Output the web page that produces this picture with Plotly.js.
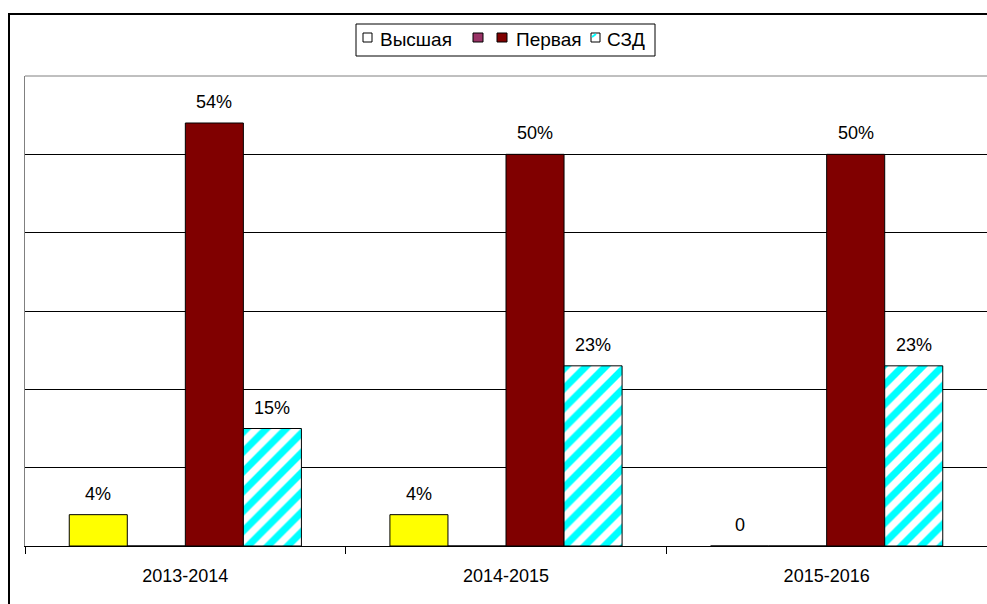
<!DOCTYPE html>
<html>
<head>
<meta charset="utf-8">
<script src="https://cdn.plot.ly/plotly-3.0.1.min.js"></script>
<style>html,body{margin:0;padding:0;background:#fff;}#chart{width:987px;height:604px;}</style>
</head>
<body>
<div id="chart"></div>
<script>
// ---- data ----
const categories = ['2013-2014', '2014-2015', '2015-2016'];
const vysshaya = [0.04, 0.04, 0];
const seriesPurple = [0, 0, 0];
const pervaya = [0.54, 0.50, 0.50];
const szd = [0.15, 0.23, 0.23];
const seriesNames = ['Высшая', '', 'Первая', 'СЗД'];

// ---- layout helpers ----
const W = 987, H = 604;
const M = {l: 25, r: 0, t: 76, b: 58};
const PW = W - M.l - M.r, PH = H - M.t - M.b;
const px = p => (p - M.l) / PW;
const py = q => (H - M.b - q) / PH;
const FONT = 'Liberation Sans, Arial, sans-serif';

const barW = 0.181;
const offsets = [-2 * barW, -barW, 0, barW];
const seriesValues = [vysshaya, seriesPurple, pervaya, szd];
const colors = ['#ffff00', '#993366', '#800000', '#ffffff'];
const showLabels = [true, false, true, true];

const fmt = v => v === 0 ? '0' : Math.round(v * 100) + '%';

const traces = seriesValues.map((vals, k) => {
  const t = {
    type: 'bar',
    name: seriesNames[k],
    x: categories,
    y: vals,
    width: barW,
    offset: offsets[k],
    marker: {color: colors[k], line: {color: '#000', width: 1}},
    showlegend: false,
    hoverinfo: 'skip'
  };
  if (k === 3) {
    t.marker.pattern = {shape: '/', fgcolor: '#00ffff', bgcolor: '#ffffff', size: 14, solidity: 0.5, fillmode: 'replace'};
  }
  return t;
});

const annotations = [];
seriesValues.forEach((vals, k) => {
  if (!showLabels[k]) return;
  vals.forEach((v, i) => {
    annotations.push({
      xref: 'x', yref: 'y',
      x: i + offsets[k] + barW / 2, y: v,
      text: fmt(v), showarrow: false,
      xanchor: 'center', yanchor: 'bottom', yshift: 9,
      font: {family: FONT, size: 18, color: '#000'}
    });
  });
});

// legend (drawn manually to match compact layout)
const legendText = [
  {t: seriesNames[0], x: 378},
  {t: seriesNames[2], x: 514},
  {t: seriesNames[3], x: 605}
];
legendText.forEach(o => annotations.push({
  xref: 'paper', yref: 'paper', x: px(o.x), y: py(39),
  xanchor: 'left', yanchor: 'middle', showarrow: false, text: o.t,
  font: {family: FONT, size: 19, color: '#000'}
}));

const rect = (x0, y0, x1, y1, fill, line, lw) => ({
  type: 'rect', xref: 'paper', yref: 'paper',
  x0: px(x0), x1: px(x1), y0: py(y0), y1: py(y1),
  fillcolor: fill, line: {color: line, width: lw}, layer: 'above'
});

const shapes = [
  // outer frame
  rect(9, 14, 1010, 640, 'rgba(0,0,0,0)', '#000', 2),
  // top border of plot area
  {type: 'line', xref: 'paper', yref: 'paper', x0: 0, x1: 1, y0: 1, y1: 1, line: {color: '#808080', width: 1}},
  // legend box
  rect(356, 24, 655, 56, '#ffffff', '#000', 1),
  rect(363, 33, 372, 42, '#ffffff', '#000', 1),
  rect(473, 33, 483, 42, colors[1], '#000', 1),
  rect(497, 33, 507, 42, colors[2], '#000', 1),
  rect(591, 33, 600, 42, '#ffffff', '#000', 1),
  {type: 'line', xref: 'paper', yref: 'paper', x0: px(592), x1: px(596), y0: py(37), y1: py(34), line: {color: '#00ffff', width: 2}}
];

const layout = {
  width: W, height: H,
  margin: M,
  paper_bgcolor: '#ffffff', plot_bgcolor: '#ffffff',
  font: {family: FONT, size: 18, color: '#000'},
  barmode: 'group',
  showlegend: false,
  hovermode: false,
  xaxis: {
    type: 'category',
    showline: true, linecolor: '#000', linewidth: 1,
    ticks: 'outside', tickson: 'boundaries', ticklen: 7, tickcolor: '#000', tickwidth: 1,
    showgrid: false, zeroline: false,
    ticklabelstandoff: 13,
    tickfont: {family: FONT, size: 18, color: '#000'},
    fixedrange: true
  },
  yaxis: {
    range: [0, 0.6],
    tickvals: [0.1, 0.2, 0.3, 0.4, 0.5],
    showticklabels: false, ticks: '',
    showgrid: true, gridcolor: '#000', gridwidth: 1,
    zeroline: false,
    showline: true, linecolor: '#808080', linewidth: 1,
    fixedrange: true
  },
  annotations: annotations,
  shapes: shapes
};

Plotly.newPlot('chart', traces, layout, {staticPlot: true, displayModeBar: false});
</script>
</body>
</html>
